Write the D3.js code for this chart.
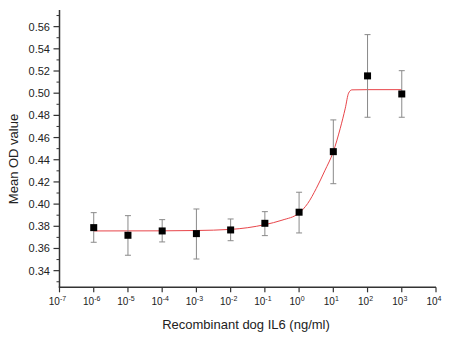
<!DOCTYPE html>
<html><head><meta charset="utf-8">
<script src="https://cdn.jsdelivr.net/npm/d3@7"></script>
<style>body{margin:0;background:#fff}svg{display:block}</style>
</head><body><svg id="c" width="462" height="344"></svg>
<script>
// Data
const concentrations = [1e-6, 1e-5, 1e-4, 1e-3, 1e-2, 1e-1, 1e0, 1e1, 1e2, 1e3];
const meanOD  = [0.3788, 0.3719, 0.3758, 0.3734, 0.3767, 0.3827, 0.3927, 0.4473, 0.5156, 0.4993];
const errLow  = [0.3656, 0.3539, 0.3659, 0.3505, 0.3670, 0.3716, 0.3740, 0.4184, 0.4783, 0.4783];
const errHigh = [0.3923, 0.3896, 0.3860, 0.3956, 0.3866, 0.3932, 0.4107, 0.4759, 0.5528, 0.5203];
// fitted curve (log10 concentration, OD)
const fitLogX = [-6, -4, -3, -2, -1, -0.5, 0, 0.25, 0.5, 0.75, 1, 1.2, 1.35, 1.445, 1.54, 2, 3];
const fitY    = [0.3758, 0.3759, 0.3762, 0.3772, 0.3815, 0.3855, 0.3920, 0.4005, 0.4140, 0.4300, 0.4473, 0.4680, 0.4865, 0.5000, 0.5030, 0.5032, 0.5032];
const xTickExp = [-7, -6, -5, -4, -3, -2, -1, 0, 1, 2, 3, 4];
const yTicks = [0.34, 0.36, 0.38, 0.40, 0.42, 0.44, 0.46, 0.48, 0.50, 0.52, 0.54, 0.56];
const xTitle = "Recombinant dog IL6 (ng/ml)";
const yTitle = "Mean OD value";

const svg = d3.select("#c");
const font = "Liberation Sans, Arial, sans-serif";
const x = d3.scaleLog().domain([1e-7, 1e4]).range([59.5, 436]);
const y = d3.scaleLinear().domain([0.325, 0.575]).range([287.3, 10]);
const axisColor = "#333";

// Y axis
const yAxisG = svg.append("g");
yAxisG.append("line").attr("x1", x.range()[0]).attr("x2", x.range()[0])
  .attr("y1", y.range()[1]).attr("y2", y.range()[0])
  .attr("stroke", axisColor).attr("stroke-width", 1.5);
const yMinor = d3.range(0.33, 0.575, 0.01).filter(v => !yTicks.some(t => Math.abs(t - v) < 1e-6));
yAxisG.selectAll(".ymin").data(yMinor).join("line")
  .attr("x1", x.range()[0] - 3).attr("x2", x.range()[0])
  .attr("y1", d => y(d)).attr("y2", d => y(d))
  .attr("stroke", axisColor).attr("stroke-width", 1);
yAxisG.selectAll(".ymaj").data(yTicks).join("line")
  .attr("x1", x.range()[0] - 6).attr("x2", x.range()[0])
  .attr("y1", d => y(d)).attr("y2", d => y(d))
  .attr("stroke", axisColor).attr("stroke-width", 1.2);
yAxisG.selectAll(".ylab").data(yTicks).join("text")
  .attr("x", 50).attr("y", d => y(d) + 4)
  .attr("text-anchor", "end").attr("font-family", font).attr("font-size", 11)
  .attr("fill", "#222").text(d => d.toFixed(2));

// X axis
const xAxisG = svg.append("g");
xAxisG.append("line").attr("x1", x.range()[0] - 0.75).attr("x2", x.range()[1])
  .attr("y1", y.range()[0]).attr("y2", y.range()[0])
  .attr("stroke", axisColor).attr("stroke-width", 1.5);
xAxisG.selectAll(".xmaj").data(xTickExp).join("line")
  .attr("x1", d => x(Math.pow(10, d))).attr("x2", d => x(Math.pow(10, d)))
  .attr("y1", y.range()[0]).attr("y2", y.range()[0] + 5)
  .attr("stroke", axisColor).attr("stroke-width", 1.2);
const xl = xAxisG.selectAll(".xlab").data(xTickExp).join("text")
  .attr("x", d => x(Math.pow(10, d)) - 2).attr("y", 305)
  .attr("text-anchor", "middle").attr("font-family", font).attr("font-size", 10)
  .attr("fill", "#222");
xl.append("tspan").text("10");
xl.append("tspan").attr("dy", -4).attr("font-size", 7).text(d => String(d).replace("-", "-"));

// Titles
svg.append("text").attr("x", 246).attr("y", 329).attr("text-anchor", "middle")
  .attr("font-family", font).attr("font-size", 13).attr("fill", "#222").text(xTitle);
svg.append("text").attr("transform", "translate(18,159) rotate(-90)").attr("text-anchor", "middle")
  .attr("font-family", font).attr("font-size", 13).attr("fill", "#222").text(yTitle);

// Fit curve
const line = d3.line().x(d => x(Math.pow(10, d[0]))).y(d => y(d[1])).curve(d3.curveMonotoneX);
svg.append("path").datum(fitLogX.map((v, i) => [v, fitY[i]]))
  .attr("d", line).attr("fill", "none").attr("stroke", "#e8454a").attr("stroke-width", 1);

// Error bars
const pts = concentrations.map((c, i) => ({c, m: meanOD[i], lo: errLow[i], hi: errHigh[i]}));
const eb = svg.append("g").attr("stroke", "#8a8a8a").attr("stroke-width", 1);
eb.selectAll(".v").data(pts).join("line")
  .attr("x1", d => x(d.c)).attr("x2", d => x(d.c)).attr("y1", d => y(d.lo)).attr("y2", d => y(d.hi));
eb.selectAll(".t").data(pts).join("line")
  .attr("x1", d => x(d.c) - 3).attr("x2", d => x(d.c) + 3).attr("y1", d => y(d.hi)).attr("y2", d => y(d.hi));
eb.selectAll(".b").data(pts).join("line")
  .attr("x1", d => x(d.c) - 3).attr("x2", d => x(d.c) + 3).attr("y1", d => y(d.lo)).attr("y2", d => y(d.lo));

// Markers
svg.selectAll(".pt").data(pts).join("rect")
  .attr("x", d => x(d.c) - 3.5).attr("y", d => y(d.m) - 3.5)
  .attr("width", 7).attr("height", 7).attr("fill", "#000");
</script></body></html>
